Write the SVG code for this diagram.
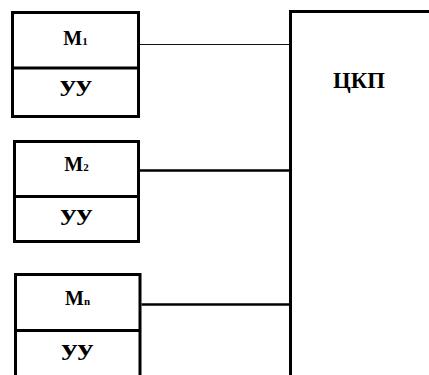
<svg xmlns="http://www.w3.org/2000/svg" width="429" height="375" viewBox="0 0 429 375">
  <style>
    .box { fill: #fff; stroke: #000; stroke-width: 3; }
    .div { stroke: #000; stroke-width: 3; }
    .lbl { font-family: "Liberation Serif", "Times New Roman", serif; font-weight: bold; fill: #000; text-anchor: middle; }
    .mod { font-size: 20px; }
    .sub { font-size: 11px; }
    .uu { font-size: 21px; }
    .wire { stroke: #000; stroke-width: 2.5; fill: none; }
    .wire-thin { stroke: #111; stroke-width: 1; fill: none; }
  </style>
  <rect width="429" height="375" fill="#fff"/>

  <!-- central switching unit -->
  <g id="ckp">
    <path class="box" d="M290.5,380 V11.5 H432"/>
    <text class="lbl" x="359" y="88" font-size="23" textLength="52" lengthAdjust="spacingAndGlyphs">ЦКП</text>
  </g>

  <!-- module 1 -->
  <g id="m1">
    <rect class="box" x="12.5" y="12.5" width="126" height="104"/>
    <line class="div" x1="12.5" y1="68" x2="138.5" y2="68"/>
    <text class="lbl mod" x="75.5" y="45">М<tspan class="sub">1</tspan></text>
    <text class="lbl uu" x="76" y="91" textLength="32" lengthAdjust="spacingAndGlyphs">уу</text>
  </g>

  <!-- module 2 -->
  <g id="m2">
    <rect class="box" x="14.5" y="141.5" width="124" height="100"/>
    <line class="div" x1="14.5" y1="196.5" x2="138.5" y2="196.5"/>
    <text class="lbl mod" x="76.5" y="171">М<tspan class="sub">2</tspan></text>
    <text class="lbl uu" x="76.5" y="220" textLength="32" lengthAdjust="spacingAndGlyphs">уу</text>
  </g>

  <!-- module n -->
  <g id="mn">
    <path class="box" d="M15.5,380 V274.5 H140 V380"/>
    <line class="div" x1="15.5" y1="330.5" x2="140" y2="330.5"/>
    <text class="lbl mod" x="77.5" y="305">М<tspan class="sub">n</tspan></text>
    <text class="lbl uu" x="77.5" y="355" textLength="32" lengthAdjust="spacingAndGlyphs">уу</text>
  </g>

  <!-- links to the central unit -->
  <g id="connectors">
    <line class="wire-thin" x1="140" y1="44.5" x2="290" y2="44.5"/>
    <line class="wire" x1="140" y1="170.5" x2="290" y2="170.5"/>
    <line class="wire" x1="141.5" y1="304.5" x2="290" y2="304.5"/>
  </g>
</svg>
